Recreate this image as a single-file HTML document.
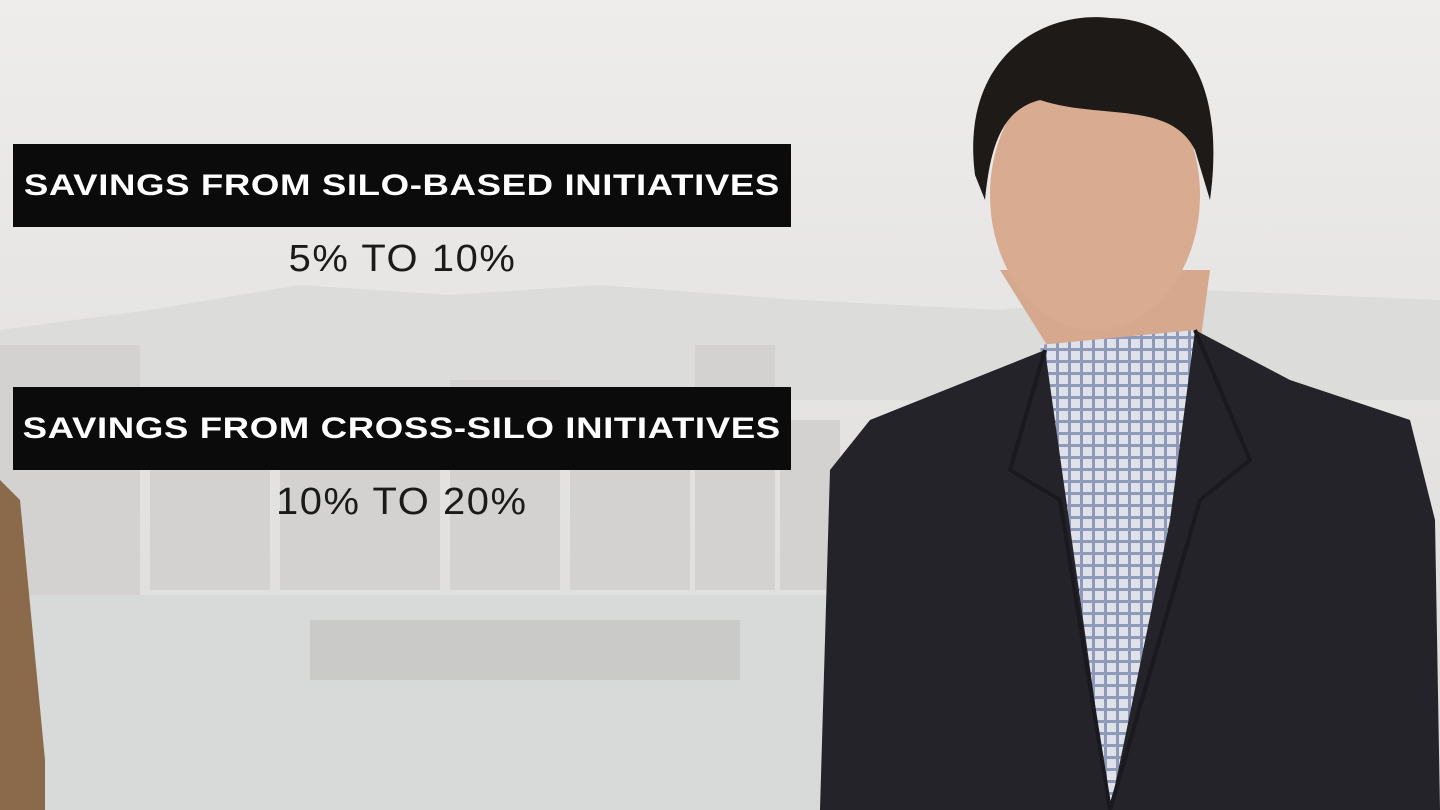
<!DOCTYPE html>
<html><head><meta charset="utf-8">
<style>
html,body{margin:0;padding:0;width:1440px;height:810px;overflow:hidden;background:#e9e8e6;}
#bg{position:absolute;left:0;top:0;}
.bar{position:absolute;left:13px;width:778px;height:83px;background:#0b0b0b;
 display:flex;align-items:center;justify-content:center;white-space:nowrap;}
.bar span{display:inline-block;color:#fff;font-family:"Liberation Sans",sans-serif;font-weight:bold;font-size:30px;letter-spacing:0.5px;transform:scaleX(1.22);}
.val{position:absolute;left:13px;width:778px;text-align:center;color:#1a1a1a;
 font-family:"Liberation Sans",sans-serif;font-size:38px;font-weight:normal;letter-spacing:1.5px;-webkit-text-stroke:0px;}
.val span{display:inline-block;transform:scaleX(1.05);}
</style></head><body>
<svg id="bg" width="1440" height="810">
 <defs>
  <linearGradient id="sky" x1="0" y1="0" x2="0" y2="1">
   <stop offset="0" stop-color="#eeedeb"/><stop offset="0.4" stop-color="#e6e5e3"/><stop offset="1" stop-color="#dcdcdb"/>
  </linearGradient>
  <pattern id="check" width="12" height="12" patternUnits="userSpaceOnUse">
   <rect width="12" height="12" fill="#dfe2ea"/>
   <rect x="0" y="0" width="3" height="12" fill="#8f9ab8"/>
   <rect x="0" y="0" width="12" height="3" fill="#8f9ab8"/>
  </pattern>
 </defs>
 <rect width="1440" height="810" fill="url(#sky)"/>
 <path d="M0 330 L150 310 L300 285 L450 295 L600 285 L800 300 L1000 310 L1200 290 L1440 300 L1440 400 L0 400Z" fill="#dcdcda"/>
 <g fill="#d3d2d0">
  <rect x="0" y="345" width="140" height="250"/>
  <rect x="150" y="390" width="120" height="200"/>
  <rect x="280" y="420" width="160" height="170"/>
  <rect x="450" y="380" width="110" height="210"/>
  <rect x="570" y="400" width="120" height="190"/>
  <rect x="695" y="345" width="80" height="245"/>
  <rect x="780" y="420" width="60" height="170"/>
 </g>
 <rect x="0" y="595" width="830" height="215" fill="#d8d9d9"/>
 <rect x="310" y="620" width="430" height="60" fill="#cacac8"/>
 <path d="M0 480 L20 500 L45 760 L45 810 L0 810Z" fill="#8a6a4a"/>
 <g>
  <path d="M1000 270 L1210 270 L1200 345 L1050 350Z" fill="#d6a88e"/>
  <path d="M1040 345 L1195 330 L1190 810 L1080 810Z" fill="url(#check)"/>
  <path d="M820 810 L830 470 L870 420 L1045 350 L1110 810Z" fill="#25232a"/>
  <path d="M1195 330 L1290 380 L1410 420 L1435 520 L1440 810 L1110 810 L1170 520Z" fill="#25232a"/>
  <path d="M1045 350 L1010 470 L1060 500 L1110 810" fill="none" stroke="#1a191e" stroke-width="4"/>
  <path d="M1195 330 L1250 460 L1200 500 L1110 810" fill="none" stroke="#1a191e" stroke-width="4"/>
  <ellipse cx="1095" cy="195" rx="105" ry="135" fill="#d9ab91"/>
  <path d="M975 175 C960 60 1040 10 1110 18 C1190 20 1225 90 1210 200 L1195 150 C1170 100 1100 120 1040 100 C1000 110 990 150 985 200Z" fill="#1e1a18"/>
 </g>
</svg>
<div class="bar" style="top:144px"><span>SAVINGS FROM SILO-BASED INITIATIVES</span></div>
<div class="val" style="top:238px"><span>5% TO 10%</span></div>
<div class="bar" style="top:387px"><span>SAVINGS FROM CROSS-SILO INITIATIVES</span></div>
<div class="val" style="top:481px"><span>10% TO 20%</span></div>
</body></html>
